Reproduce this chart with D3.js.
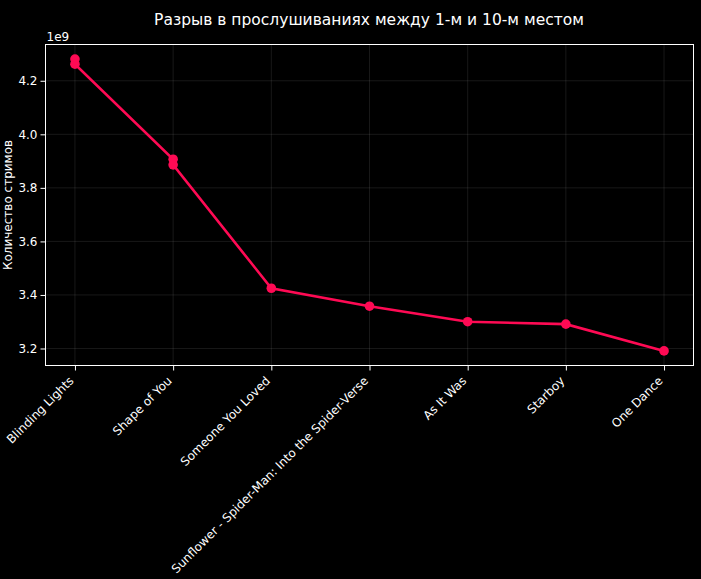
<!DOCTYPE html>
<html>
<head>
<meta charset="utf-8">
<script src="https://d3js.org/d3.v7.min.js"></script>
<style>
  body { margin: 0; background: #000; }
  text { font-family: "DejaVu Sans", sans-serif; }
</style>
</head>
<body>
<svg width="701" height="579"></svg>
<script>
// song for each point (top 10 list, two songs appear twice)
var songs = ["Blinding Lights", "Blinding Lights", "Shape of You", "Shape of You",
  "Someone You Loved", "Sunflower - Spider-Man: Into the Spider-Verse",
  "As It Was", "Starboy", "One Dance"];
var categories = ["Blinding Lights", "Shape of You", "Someone You Loved",
  "Sunflower - Spider-Man: Into the Spider-Verse", "As It Was", "Starboy", "One Dance"];
// streams, in units of 1e9
var streams = [4.281, 4.262, 3.907, 3.886, 3.425, 3.358, 3.300, 3.291, 3.191];
var yTicks = [3.2, 3.4, 3.6, 3.8, 4.0, 4.2];

var svg = d3.select("svg");
svg.append("rect").attr("width", 701).attr("height", 579).attr("fill", "#000");

var pLeft = 45.5, pRight = 693.5, pTop = 44.5, pBottom = 365.5;

var x = d3.scalePoint().domain(categories).range([pLeft, pRight]).padding(0.3);
var lo = d3.min(streams), hi = d3.max(streams), m = (hi - lo) * 0.05;
var y = d3.scaleLinear().domain([lo - m, hi + m]).range([pBottom, pTop]);

var data = songs.map(function(s, i) { return { song: s, v: streams[i] }; });

// grid
svg.append("g").selectAll("line").data(categories).enter().append("line")
  .attr("x1", function(d) { return x(d); }).attr("x2", function(d) { return x(d); })
  .attr("y1", pTop).attr("y2", pBottom)
  .attr("stroke", "#fff").attr("stroke-opacity", 0.12).attr("stroke-width", 0.8);
svg.append("g").selectAll("line").data(yTicks).enter().append("line")
  .attr("x1", pLeft).attr("x2", pRight)
  .attr("y1", function(d) { return y(d); }).attr("y2", function(d) { return y(d); })
  .attr("stroke", "#fff").attr("stroke-opacity", 0.12).attr("stroke-width", 0.8);

// axes
var xAxis = svg.append("g").attr("transform", "translate(0," + pBottom + ")")
  .call(d3.axisBottom(x).tickSize(5).tickSizeOuter(0));
xAxis.select(".domain").remove();
xAxis.selectAll("line").attr("stroke", "#fff");
xAxis.selectAll("text")
  .attr("fill", "#fff").attr("font-size", 12)
  .attr("text-anchor", "end")
  .attr("dy", 0).attr("y", 0)
  .attr("transform", "translate(-1,16) rotate(-45)");

var yAxis = svg.append("g").attr("transform", "translate(" + pLeft + ",0)")
  .call(d3.axisLeft(y).tickValues(yTicks).tickFormat(d3.format(".1f")).tickSize(5).tickSizeOuter(0));
yAxis.select(".domain").remove();
yAxis.selectAll("line").attr("stroke", "#fff");
yAxis.selectAll("text").attr("fill", "#fff").attr("font-size", 12).attr("x", -8);

// frame
svg.append("rect").attr("x", pLeft).attr("y", pTop)
  .attr("width", pRight - pLeft).attr("height", pBottom - pTop)
  .attr("fill", "none").attr("stroke", "#fff").attr("stroke-width", 1);

// line + markers
var line = d3.line().x(function(d) { return x(d.song); }).y(function(d) { return y(d.v); });
svg.append("path").datum(data).attr("d", line)
  .attr("fill", "none").attr("stroke", "#ff0a54").attr("stroke-width", 2.6);
svg.append("g").selectAll("circle").data(data).enter().append("circle")
  .attr("cx", function(d) { return x(d.song); })
  .attr("cy", function(d) { return y(d.v); })
  .attr("r", 4.8).attr("fill", "#ff0a54");

// texts
svg.append("text").attr("x", pLeft + 1).attr("y", 41).attr("fill", "#fff")
  .attr("font-size", 12).text("1e9");
svg.append("text").attr("x", 369).attr("y", 25).attr("text-anchor", "middle")
  .attr("fill", "#fff").attr("font-size", 15.5)
  .text("Разрыв в прослушиваниях между 1-м и 10-м местом");
svg.append("text").attr("transform", "translate(12," + ((pTop + pBottom) / 2) + ") rotate(-90)")
  .attr("text-anchor", "middle").attr("fill", "#fff").attr("font-size", 12)
  .text("Количество стримов");
</script>
</body>
</html>
